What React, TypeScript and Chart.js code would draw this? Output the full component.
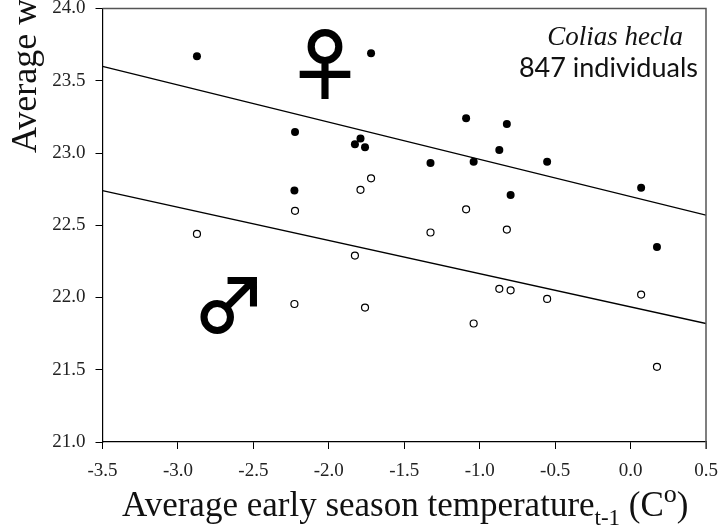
import React, { useEffect, useRef } from "react";
import { Chart, registerables } from "chart.js";

Chart.register(...registerables);

const femaleX = [-2.874, -2.224, -2.228, -1.827, -1.79, -1.76, -1.72, -1.326, -1.09, -1.04, -0.87, -0.82, -0.795, -0.553, 0.07, 0.175];
const femaleY = [23.67, 23.145, 22.74, 23.06, 23.10, 23.04, 23.69, 22.93, 23.24, 22.94, 23.02, 23.2, 22.71, 22.94, 22.76, 22.35];
const maleX = [-2.874, -2.224, -2.228, -1.827, -1.79, -1.76, -1.72, -1.326, -1.09, -1.04, -0.87, -0.82, -0.795, -0.553, 0.07, 0.175];
const maleY = [22.44, 22.60, 21.955, 22.29, 22.745, 21.93, 22.825, 22.45, 22.61, 21.82, 22.06, 22.47, 22.05, 21.99, 22.02, 21.52];
const femaleFitX = [-3.5, 0.5];
const femaleFitY = [23.6, 22.57];
const maleFitX = [-3.5, 0.5];
const maleFitY = [22.74, 21.82];

const yAxisTitle = "Average w";
const xAxisTitle = "Average early season temperature";
const xAxisSub = "t-1";
const xAxisOpen = " (C";
const xAxisSup = "o";
const xAxisClose = ")";
const speciesName = "Colias hecla";
const individuals = "847 individuals";
const femaleSymbol = "\u2640";
const maleSymbol = "\u2642";

const SERIF = '"Liberation Serif"';

const zip = (xs: number[], ys: number[]) => xs.map((x, i) => ({ x, y: ys[i] }));

const annotations = {
  id: "annotations",
  afterDraw(chart: any) {
    const { ctx, chartArea: a } = chart;
    ctx.save();
    ctx.strokeStyle = "#555";
    ctx.lineWidth = 1.5;
    ctx.beginPath();
    ctx.moveTo(a.left, a.top);
    ctx.lineTo(a.right, a.top);
    ctx.lineTo(a.right, a.bottom + 7);
    ctx.stroke();

    ctx.fillStyle = "#111";
    ctx.textBaseline = "alphabetic";
    ctx.textAlign = "left";

    ctx.font = `35px ${SERIF}`;
    let x = 122;
    const base = 516;
    ctx.fillText(xAxisTitle, x, base);
    x += ctx.measureText(xAxisTitle).width;
    ctx.font = `23px ${SERIF}`;
    ctx.fillText(xAxisSub, x, base + 9);
    x += ctx.measureText(xAxisSub).width;
    ctx.font = `35px ${SERIF}`;
    ctx.fillText(xAxisOpen, x, base);
    x += ctx.measureText(xAxisOpen).width;
    ctx.font = `26px ${SERIF}`;
    ctx.fillText(xAxisSup, x, base - 14);
    x += ctx.measureText(xAxisSup).width;
    ctx.font = `35px ${SERIF}`;
    ctx.fillText(xAxisClose, x, base);

    ctx.save();
    ctx.translate(36, 153);
    ctx.rotate(-Math.PI / 2);
    ctx.font = `36px ${SERIF}`;
    ctx.fillText(yAxisTitle, 0, 0);
    ctx.restore();

    ctx.textAlign = "right";
    ctx.font = `italic 27px ${SERIF}`;
    ctx.fillText(speciesName, 683, 45);
    ctx.font = `27px Lato`;
    ctx.fillText(individuals, 698, 77);

    ctx.textAlign = "center";
    ctx.fillStyle = "#000";
    ctx.strokeStyle = "#000";
    ctx.lineWidth = 2;
    ctx.font = `76px "Noto Sans CJK JP"`;
    ctx.fillText(femaleSymbol, 325, 93);
    ctx.strokeText(femaleSymbol, 325, 93);
    ctx.font = `73px "Noto Sans CJK JP"`;
    ctx.fillText(maleSymbol, 229.5, 332);
    ctx.strokeText(maleSymbol, 229.5, 332);
    ctx.restore();
  },
};

export default function App() {
  const ref = useRef<HTMLCanvasElement>(null);
  useEffect(() => {
    const chart = new Chart(ref.current!, {
      type: "scatter",
      data: {
        datasets: [
          { label: "Female fit", data: zip(femaleFitX, femaleFitY), showLine: true, borderColor: "#000", borderWidth: 1.3, pointRadius: 0 },
          { label: "Male fit", data: zip(maleFitX, maleFitY), showLine: true, borderColor: "#000", borderWidth: 1.3, pointRadius: 0 },
          { label: "Female", data: zip(femaleX, femaleY), backgroundColor: "#000", borderColor: "#000", pointRadius: 4, borderWidth: 0 },
          { label: "Male", data: zip(maleX, maleY), backgroundColor: "#fff", borderColor: "#000", pointRadius: 3.5, borderWidth: 1.2 },
        ],
      },
      options: {
        responsive: false,
        animation: false,
        layout: { padding: { top: 8.5, right: 13, left: 0, bottom: 0 } },
        plugins: { legend: { display: false }, tooltip: { enabled: false } },
        scales: {
          x: {
            type: "linear",
            min: -3.5,
            max: 0.5,
            afterFit: (s: any) => { s.height = 86; s.paddingLeft = 0; s.paddingRight = 0; },
            border: { color: "#000", width: 1.2 },
            grid: { drawOnChartArea: false, tickLength: 7, color: "#000", tickColor: "#000" },
            ticks: {
              stepSize: 0.5,
              maxRotation: 0,
              autoSkip: false,
              padding: 11,
              color: "#222",
              font: { family: "Liberation Serif", size: 19 },
              callback: (v: any) => Number(v).toFixed(1),
            },
          },
          y: {
            min: 21,
            max: 24,
            afterFit: (s: any) => { s.width = 102.5; s.paddingTop = 0; s.paddingBottom = 0; },
            border: { color: "#000", width: 1.2 },
            grid: { drawOnChartArea: false, tickLength: 7, color: "#000", tickColor: "#000" },
            ticks: {
              stepSize: 0.5,
              padding: 10,
              color: "#222",
              font: { family: "Liberation Serif", size: 19 },
              callback: (v: any) => Number(v).toFixed(1),
            },
          },
        },
      },
      plugins: [annotations],
    } as any);
    return () => chart.destroy();
  }, []);
  return (
    <div style={{ position: "fixed", left: 0, top: 0 }}>
      <canvas ref={ref} width={719} height={528} style={{ display: "block" }} />
    </div>
  );
}
